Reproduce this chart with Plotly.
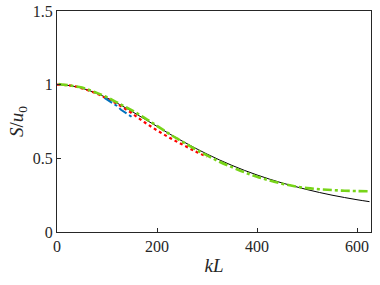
import plotly.graph_objects as go

# Black solid (theory)
kl_black = [0, 25, 50, 75, 100, 125, 150, 175, 200, 225, 250, 275, 300, 325, 350,
            375, 400, 425, 450, 475, 500, 525, 550, 575, 600, 625]
s_black = [1.0, 0.994, 0.976, 0.947, 0.910, 0.866, 0.818, 0.767, 0.717, 0.666, 0.618,
           0.572, 0.529, 0.489, 0.452, 0.418, 0.387, 0.359, 0.333, 0.310, 0.288, 0.268,
           0.250, 0.234, 0.219, 0.206]

# Green dash-dot
kl_green = [3, 25, 50, 75, 100, 125, 150, 175, 200, 225, 250, 275, 300, 325, 350,
            375, 400, 425, 450, 475, 500, 525, 550, 575, 600, 625]
s_green = [1.005, 0.995, 0.98, 0.95, 0.915, 0.87, 0.825, 0.775, 0.72, 0.665, 0.615,
           0.565, 0.52, 0.477, 0.44, 0.405, 0.375, 0.35, 0.328, 0.31, 0.298, 0.29,
           0.285, 0.28, 0.278, 0.276]

# Red dotted
kl_red = [0, 25, 50, 75, 100, 125, 150, 175, 200, 225, 250, 275, 300]
s_red = [1.0, 0.995, 0.975, 0.945, 0.905, 0.86, 0.805, 0.745, 0.69, 0.64, 0.595, 0.55, 0.51]

# Blue dash-dot
kl_blue = [95, 105, 112, 120, 128, 135, 142, 150]
s_blue = [0.91, 0.89, 0.875, 0.855, 0.83, 0.815, 0.80, 0.78]

x_ticks = [0, 200, 400, 600]
y_ticks = [0, 0.5, 1, 1.5]
y_ticktext = ["0", "0.5", "1", "1.5"]

fig = go.Figure()
fig.add_trace(go.Scatter(x=kl_black, y=s_black, mode="lines", line=dict(color="black", width=1), line_shape="spline"))
fig.add_trace(go.Scatter(x=kl_red, y=s_red, mode="lines", line=dict(color="#FF0000", width=2.2, dash="dot"), line_shape="spline"))
fig.add_trace(go.Scatter(x=kl_blue, y=s_blue, mode="lines", line=dict(color="#0072BD", width=2, dash="dashdot")))
fig.add_trace(go.Scatter(x=kl_green, y=s_green, mode="lines", line=dict(color="#77D418", width=2.6, dash="dashdot"), line_shape="spline"))

font = dict(family="Liberation Serif, Times New Roman, serif", size=16, color="#262626")
axcol = "#262626"
fig.update_layout(
    width=380, height=285,
    margin=dict(l=57, r=9, t=11, b=53),
    paper_bgcolor="white", plot_bgcolor="white",
    showlegend=False,
    font=font,
    xaxis=dict(range=[0, 628], tickvals=x_ticks, ticks="inside", ticklen=4, tickcolor=axcol,
               mirror=True, showline=True, linecolor=axcol, linewidth=1.2,
               showgrid=False, zeroline=False, automargin=False,
               title=dict(text="<i>kL</i>", standoff=4, font=dict(size=19))),
    yaxis=dict(range=[0, 1.5], tickvals=y_ticks, ticktext=y_ticktext,
               ticks="inside", ticklen=4, tickcolor=axcol,
               mirror=True, showline=True, linecolor=axcol, linewidth=1.2,
               showgrid=False, zeroline=False, automargin=False,
               title=dict(text="<i>S</i>/<i>u</i><sub>0</sub>", standoff=4, font=dict(size=19))),
)
fig.write_html("out.html", config={"displayModeBar": False},
               post_script="document.body.style.margin='0';document.body.style.overflow='hidden';")
